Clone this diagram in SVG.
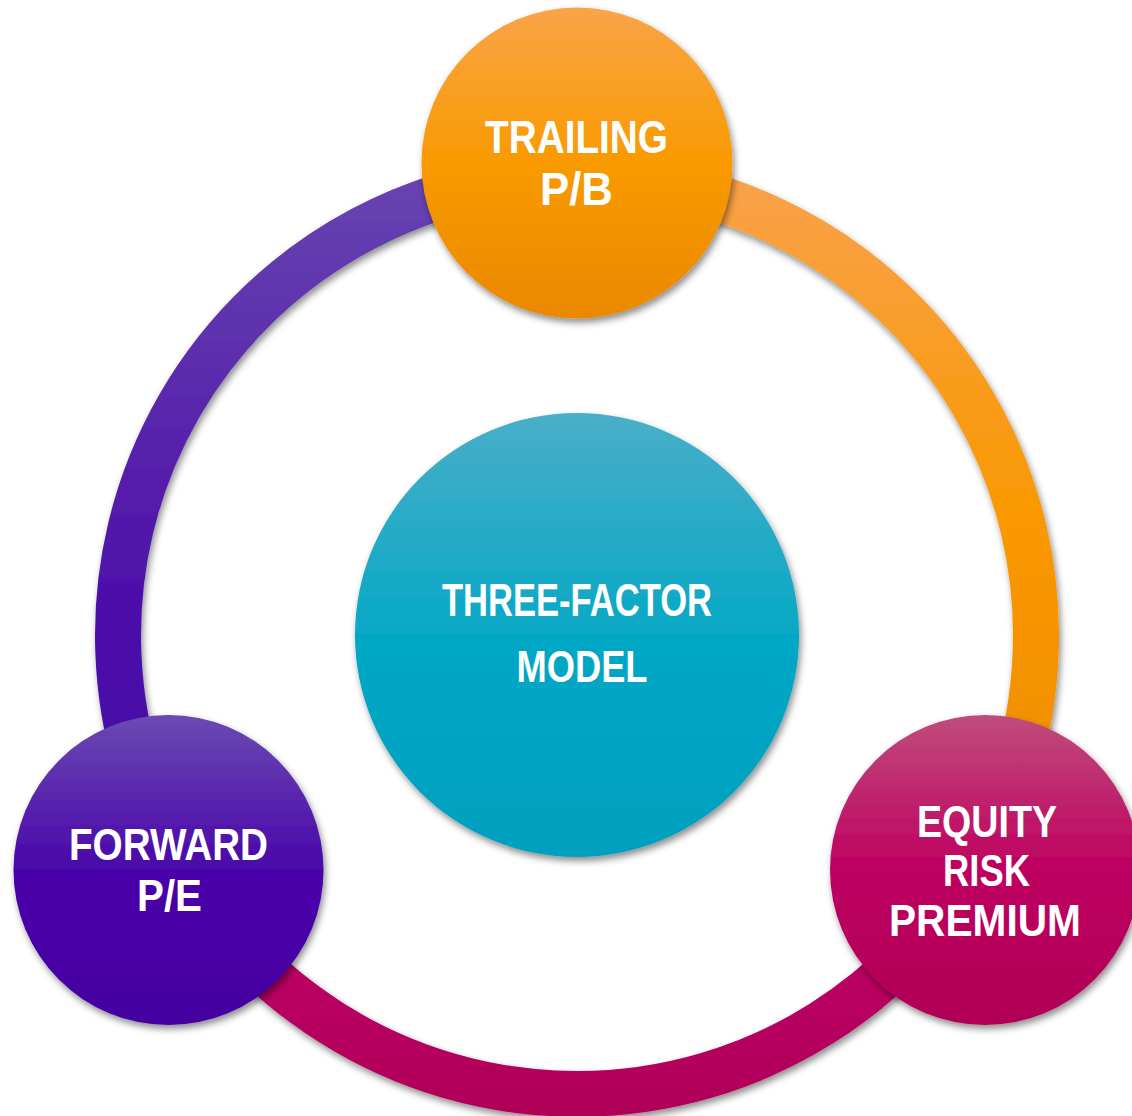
<svg xmlns="http://www.w3.org/2000/svg" width="1132" height="1116" viewBox="0 0 1132 1116">
<defs>
<filter id="sh" x="-20%" y="-20%" width="140%" height="140%">
<feDropShadow dx="2" dy="4" stdDeviation="3.5" flood-color="#000" flood-opacity="0.45"/>
</filter>
<linearGradient id="gPurpleArc" gradientUnits="userSpaceOnUse" x1="0" y1="170" x2="0" y2="870">
<stop offset="0" stop-color="#6845b0"/><stop offset="0.6" stop-color="#4e10aa"/><stop offset="1" stop-color="#4400a6"/>
</linearGradient>
<linearGradient id="gOrangeArc" gradientUnits="userSpaceOnUse" x1="0" y1="170" x2="0" y2="870">
<stop offset="0" stop-color="#f9a24c"/><stop offset="0.5" stop-color="#f99800"/><stop offset="1" stop-color="#ee8c00"/>
</linearGradient>
<linearGradient id="gMagentaArc" gradientUnits="userSpaceOnUse" x1="0" y1="860" x2="0" y2="1115">
<stop offset="0" stop-color="#c2006a"/><stop offset="1" stop-color="#b00058"/>
</linearGradient>
<linearGradient id="gTop" x1="0" y1="0" x2="0" y2="1">
<stop offset="0" stop-color="#f9a448"/><stop offset="0.5" stop-color="#f99a00"/><stop offset="1" stop-color="#ea8800"/>
</linearGradient>
<linearGradient id="gLeft" x1="0" y1="0" x2="0" y2="1">
<stop offset="0" stop-color="#6a4ab2"/><stop offset="0.5" stop-color="#4a06aa"/><stop offset="1" stop-color="#4400a0"/>
</linearGradient>
<linearGradient id="gRight" x1="0" y1="0" x2="0" y2="1">
<stop offset="0" stop-color="#c04c7c"/><stop offset="0.5" stop-color="#be0060"/><stop offset="1" stop-color="#b00056"/>
</linearGradient>
<linearGradient id="gCenter" x1="0" y1="0" x2="0" y2="1">
<stop offset="0" stop-color="#4aaec8"/><stop offset="0.5" stop-color="#06a8c6"/><stop offset="1" stop-color="#00a0be"/>
</linearGradient>
</defs>
<style>
.lbl{font-family:"Liberation Sans",Arial,sans-serif;font-weight:bold;fill:#ffffff;text-anchor:middle}
.arc{fill:none;stroke-width:46}
</style>
<g id="connectors" filter="url(#sh)">
<path class="arc" stroke="url(#gPurpleArc)" d="M 179.5 864.5 A 459 459 0 0 1 577 176"/>
<path class="arc" stroke="url(#gOrangeArc)" d="M 577 176 A 459 459 0 0 1 974.5 864.5"/>
<path class="arc" stroke="url(#gMagentaArc)" d="M 974.5 864.5 A 459 459 0 0 1 179.5 864.5"/>
</g>
<g id="node-center">
<circle cx="577" cy="635" r="222" fill="url(#gCenter)" filter="url(#sh)"/>
<text class="lbl" x="577" y="616" font-size="46" textLength="270" lengthAdjust="spacingAndGlyphs">THREE-FACTOR</text>
<text class="lbl" x="582" y="682" font-size="45" textLength="131" lengthAdjust="spacingAndGlyphs">MODEL</text>
</g>
<g id="node-top">
<circle cx="577" cy="163" r="155.5" fill="url(#gTop)" filter="url(#sh)"/>
<text class="lbl" x="576.5" y="153" font-size="46" textLength="183" lengthAdjust="spacingAndGlyphs">TRAILING</text>
<text class="lbl" x="576.5" y="205" font-size="46" textLength="73" lengthAdjust="spacingAndGlyphs">P/B</text>
</g>
<g id="node-left">
<circle cx="168.5" cy="870" r="155" fill="url(#gLeft)" filter="url(#sh)"/>
<text class="lbl" x="168.5" y="860" font-size="45" textLength="199" lengthAdjust="spacingAndGlyphs">FORWARD</text>
<text class="lbl" x="169.5" y="911" font-size="45" textLength="65" lengthAdjust="spacingAndGlyphs">P/E</text>
</g>
<g id="node-right">
<circle cx="985" cy="870" r="155" fill="url(#gRight)" filter="url(#sh)"/>
<text class="lbl" x="987" y="837" font-size="43.5" textLength="140" lengthAdjust="spacingAndGlyphs">EQUITY</text>
<text class="lbl" x="986.5" y="886" font-size="43.5" textLength="87" lengthAdjust="spacingAndGlyphs">RISK</text>
<text class="lbl" x="985" y="936" font-size="43.5" textLength="192" lengthAdjust="spacingAndGlyphs">PREMIUM</text>
</g>
</svg>
